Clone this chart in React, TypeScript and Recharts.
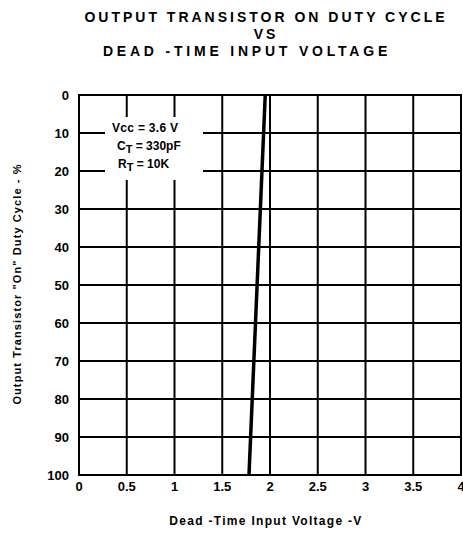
import { LineChart, Line, XAxis, YAxis, CartesianGrid, ReferenceArea } from 'recharts';

// dead-time input voltage (V) vs output "on" duty cycle (%)
const voltage = [1.95, 1.78];
const dutyCycle = [0, 100];
const xTicks = [0, 0.5, 1, 1.5, 2, 2.5, 3, 3.5, 4];
const yTicks = [0, 10, 20, 30, 40, 50, 60, 70, 80, 90, 100];

const titleLines = ['OUTPUT TRANSISTOR ON DUTY CYCLE', 'VS', 'DEAD -TIME INPUT VOLTAGE'];

const data = voltage.map((v, i) => ({ v, duty: dutyCycle[i] }));

const font = '"Liberation Sans", Arial, sans-serif';

const App = () => {
    return (
        <div style={{ position: 'absolute', left: 0, top: 0, width: 463, height: 533, background: '#fff', fontFamily: font }}>
            {titleLines.map((t, i) => (
                <div
                    key={t}
                    style={{
                        position: 'absolute', left: i === 2 ? -19 : 0, width: 532, top: 9 + i * 17,
                        textAlign: 'center', fontSize: 14, fontWeight: 'bold', letterSpacing: i === 2 ? 3.8 : 3,
                        lineHeight: '17px', color: '#000', whiteSpace: 'nowrap'
                    }}
                >
                    {t}
                </div>
            ))}
            <LineChart
                width={463}
                height={533}
                data={data}
                margin={{ top: 95, right: 2, bottom: 38, left: 29 }}
                style={{ position: 'absolute', left: 0, top: 0 }}
            >
                <CartesianGrid stroke="#000" strokeWidth={2} />
                <XAxis
                    dataKey="v" type="number" domain={[0, 4]} ticks={xTicks}
                    height={20} tickLine={false} axisLine={false} tickMargin={1}
                    tick={{ fill: '#000', fontSize: 13, fontWeight: 'bold', fontFamily: font }}
                    interval={0} allowDataOverflow
                />
                <YAxis
                    type="number" domain={[0, 100]} ticks={yTicks} reversed
                    width={50} tickLine={false} axisLine={false} tickMargin={4}
                    tick={{ fill: '#000', fontSize: 13, fontWeight: 'bold', fontFamily: font }}
                    interval={0}
                />
                <ReferenceArea x1={0} x2={4} y1={0} y2={100} fill="none" stroke="#000" strokeWidth={2} />
                <Line
                    dataKey="duty" type="linear" stroke="#000" strokeWidth={3.5}
                    dot={false} isAnimationActive={false}
                />
            </LineChart>
            <div
                style={{
                    position: 'absolute', left: 105, top: 117, width: 98, height: 63, background: '#fff',
                    fontSize: 12, fontWeight: 'bold', color: '#000', lineHeight: '18px'
                }}
            >
                <div style={{ position: 'absolute', left: 7, top: 2, whiteSpace: 'nowrap', letterSpacing: 0.3 }}>Vcc = 3.6 V</div>
                <div style={{ position: 'absolute', left: 12, top: 20, whiteSpace: 'nowrap' }}>
                    C<sub style={{ fontSize: 11, verticalAlign: -3, lineHeight: 0 }}>T</sub> = 330pF
                </div>
                <div style={{ position: 'absolute', left: 13, top: 38, whiteSpace: 'nowrap' }}>
                    R<sub style={{ fontSize: 11, verticalAlign: -3, lineHeight: 0 }}>T</sub> = 10K
                </div>
            </div>
            <div
                style={{
                    position: 'absolute', left: 0, width: 532, top: 514, textAlign: 'center',
                    fontSize: 12, fontWeight: 'bold', letterSpacing: 1.3, whiteSpace: 'nowrap', color: '#000'
                }}
            >
                Dead -Time Input Voltage -V
            </div>
            <div
                style={{
                    position: 'absolute', left: 17, top: 284, width: 300, marginLeft: -150, marginTop: -7,
                    textAlign: 'center', transform: 'rotate(-90deg)', fontSize: 11, fontWeight: 'bold',
                    letterSpacing: 1.1, whiteSpace: 'nowrap', color: '#000', lineHeight: '14px'
                }}
            >
                Output Transistor "On" Duty Cycle - %
            </div>
        </div>
    );
};

export default App;
